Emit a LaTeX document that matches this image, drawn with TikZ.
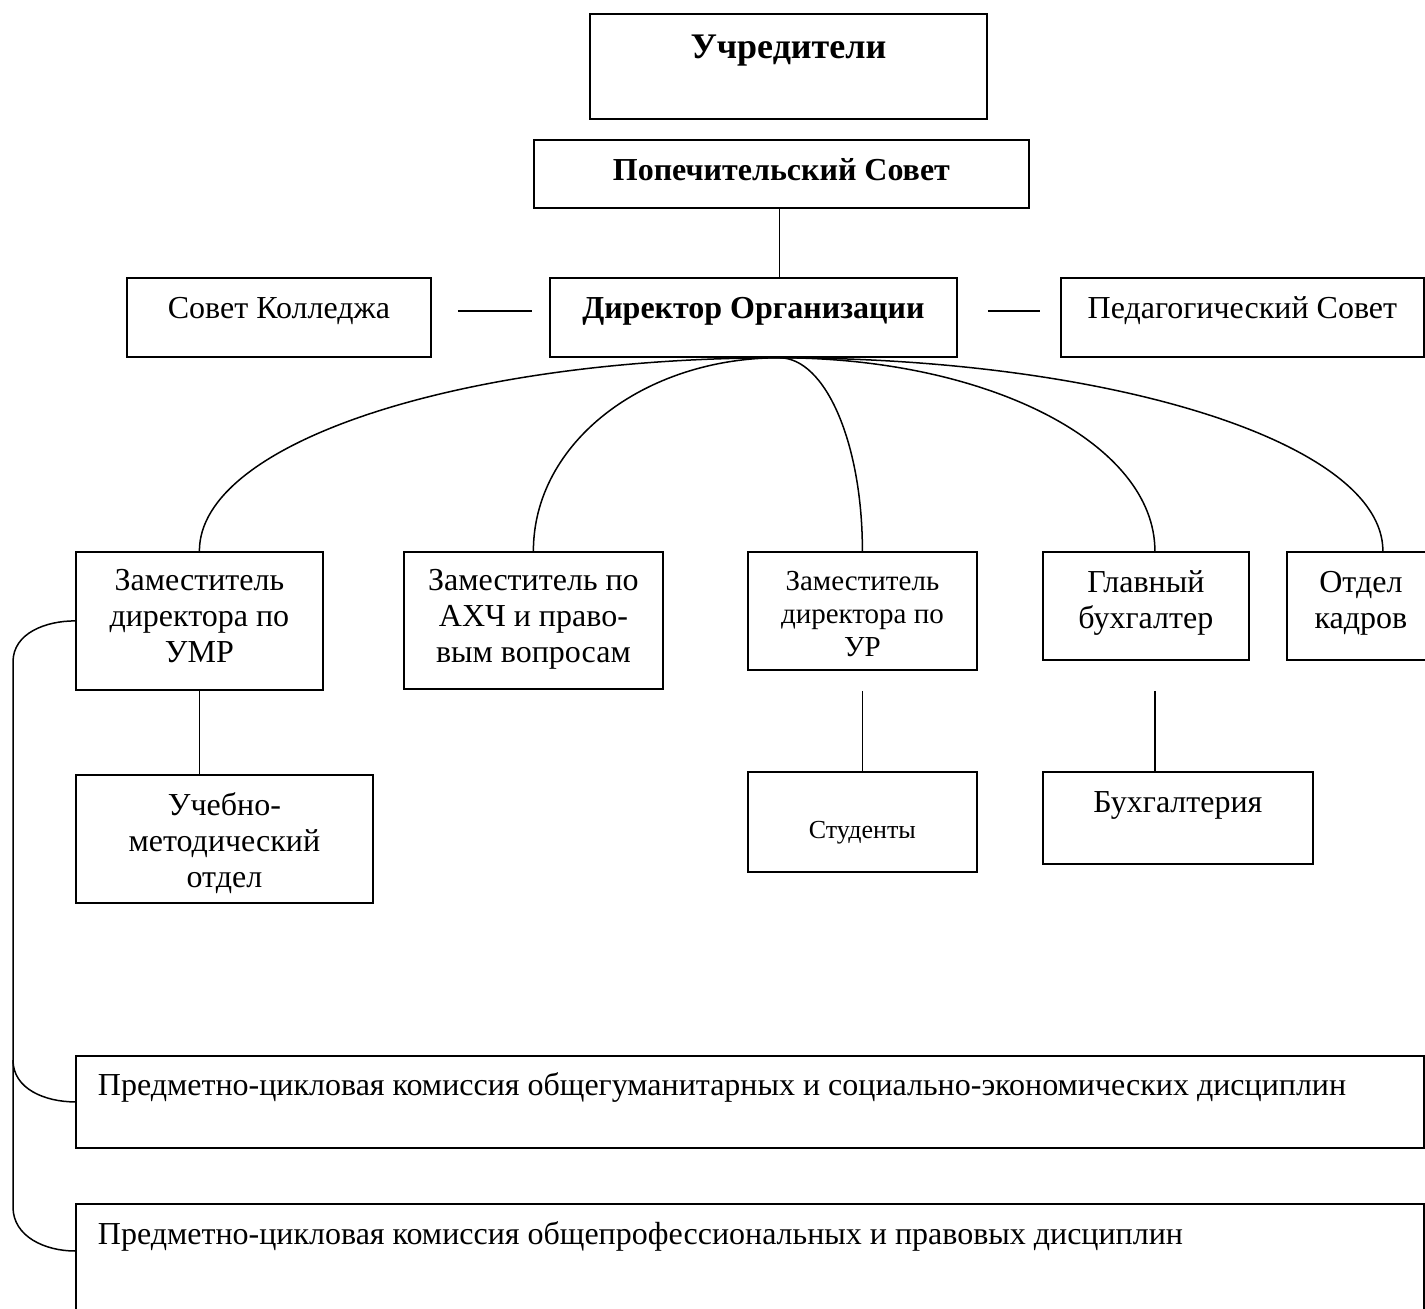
\documentclass[tikz,border=0pt]{standalone}
\usepackage{fontspec}
\setmainfont{Liberation Serif}
\usetikzlibrary{calc}

% text set from the top of a box: width, height, first baseline, text
\newcommand{\orgtext}[5][\centering]{\parbox[c][#3][t]{#2}{#1\rule{0pt}{#4}#5}}

\tikzset{
  orgbox/.style={draw,line width=0.9pt,inner sep=0pt,anchor=north west,
    font=\fontsize{16}{18}\selectfont},
  link/.style={line width=0.75pt},
  fan/.style={link,in distance=54pt}
}

\begin{document}
\begin{tikzpicture}[x=0.5pt,y=-0.5pt]

\useasboundingbox (0,0) rectangle (1425,1309);

%TOP
\node[orgbox,font=\bfseries\fontsize{18}{21}\selectfont] (uchr) at (589,13)
  {\orgtext{198.5pt}{52.5pt}{22.5pt}{Учредители}};
\node[orgbox,font=\bfseries\fontsize{16}{18}\selectfont] (popech) at (533,139)
  {\orgtext{247.5pt}{34pt}{20.5pt}{Попечительский Совет}};

%DIRECTOR ROW
\node[orgbox] (sovet) at (126,277)
  {\orgtext{152pt}{39.5pt}{20.5pt}{Совет Колледжа}};
\node[orgbox,font=\bfseries\fontsize{16}{18}\selectfont] (dir) at (549,277)
  {\orgtext{203.5pt}{39.5pt}{20.5pt}{Директор Организации}};
\node[orgbox] (ped) at (1060,277)
  {\orgtext{181.5pt}{39.5pt}{20.5pt}{Педагогический Совет}};

%DEPUTIES
\node[orgbox] (zumr) at (75,551)
  {\orgtext{123.5pt}{69pt}{19.5pt}{Заместитель\\директора по\\УМР}};
\node[orgbox] (zahch) at (403,551)
  {\orgtext{129.5pt}{68.5pt}{19.5pt}{Заместитель по\\АХЧ и право-\\вым вопросам}};
\node[orgbox,font=\fontsize{14.5}{16.5}\selectfont] (zur) at (747,551)
  {\orgtext{114.5pt}{59pt}{19.5pt}{Заместитель\\директора по\\УР}};
\node[orgbox] (glav) at (1042,551)
  {\orgtext{103pt}{54pt}{20.5pt}{Главный\\бухгалтер}};
\node[orgbox] (otdel) at (1286,551)
  {\orgtext{74pt}{54pt}{20.5pt}{Отдел\\кадров}};

%UNITS
\node[orgbox] (ucheb) at (75,774)
  {\orgtext{148.5pt}{64pt}{20.5pt}{Учебно-\\методический\\отдел}};
\node[orgbox,font=\fontsize{13}{15}\selectfont] (stud) at (747,771)
  {\orgtext{114.5pt}{50pt}{33.5pt}{Студенты}};
\node[orgbox] (buh) at (1042,771)
  {\orgtext{135pt}{46pt}{20.5pt}{Бухгалтерия}};

%COMMISSIONS
\node[orgbox] (pck1) at (75,1055)
  {\orgtext[\raggedright\hspace*{11pt}]{674pt}{46pt}{20pt}{Предметно-цикловая комиссия общегуманитарных и социально-экономических дисциплин}};
\node[orgbox] (pck2) at (75,1203)
  {\orgtext[\raggedright\hspace*{11pt}]{674pt}{65pt}{20.5pt}{Предметно-цикловая комиссия общепрофессиональных и правовых дисциплин}};

%LINKS
\coordinate (hub) at ([xshift=-1pt]popech.south |- dir.south);
\draw[link] ([xshift=-1pt]popech.south) -- (hub |- dir.north);
\draw[line width=0.9pt,shorten <=13pt,shorten >=8.5pt] ([yshift=3pt]sovet.east) -- ([yshift=3pt]dir.west);
\draw[line width=0.9pt,shorten <=15pt,shorten >=10pt] ([yshift=3pt]dir.east) -- ([yshift=3pt]ped.west);

% quarter ellipses from the director down to each deputy
\draw[fan] (hub) to[out=180,in=90,out distance=160pt] (zumr.north);
\draw[fan] (hub) to[out=180,in=90,out distance=68pt] (zahch.north);
\draw[fan] (hub) to[out=0,in=90,out distance=23pt] (zur.north);
\draw[fan] (hub) to[out=0,in=90,out distance=104pt] ($(glav.north)+(9,0)$);
\draw[fan] (hub) to[out=0,in=90,out distance=166pt] ($(otdel.north)+(22,0)$);

\draw[link] (zumr.south) -- (zumr.south |- ucheb.north);
\draw[link] ($(zur.south)+(0,20)$) -- (stud.north);
\coordinate (glavfoot) at ($(glav.south)+(9,30)$);
\draw[link] (glavfoot) -- (glavfoot |- buh.north);

%BRACKET
\coordinate (brtop) at (13,662);
\coordinate (brmid) at (13,1060);
\coordinate (brlow) at (13,1207);
\draw[link] (zumr.west) to[out=180,in=90] (brtop) -- (brlow)
  to[out=-90,in=180] ($(pck2.north west)+(0,48)$);
\draw[link] (brmid) to[out=-90,in=180] (pck1.west);

\end{tikzpicture}
\end{document}
